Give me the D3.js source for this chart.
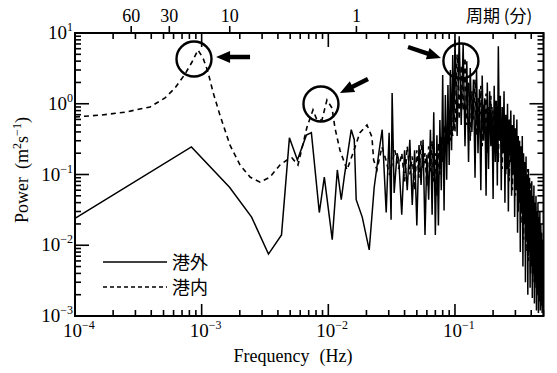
<!DOCTYPE html>
<html><head><meta charset="utf-8">
<script src="https://cdn.jsdelivr.net/npm/d3@7/dist/d3.min.js"></script>
<style>body{margin:0;background:#fff}svg{display:block}</style>
</head><body><svg id="c" width="557" height="373"></svg>
<script>
// ---------- data ----------
// 港外 (outside harbour), low-frequency part
const outerLowFreq = [1e-4, 8.3e-4, 1.66e-3, 2.48e-3, 3.37e-3, 4.27e-3, 4.93e-3, 5.7e-3, 6.71e-3, 7.35e-3, 8.49e-3, 9.3e-3, 0.01074, 0.01178, 0.01265, 0.01336, 0.01517, 0.01603, 0.0166, 0.01853, 0.02104, 0.02303, 0.02522, 0.02663, 0.02864, 0.0302, 0.0313, 0.0319, 0.0331, 0.0349];
const outerLowPower = [0.024, 0.245, 0.066, 0.025, 0.0075, 0.014, 0.33, 0.16, 0.36, 0.39, 0.029, 0.092, 0.012, 0.116, 0.044, 0.092, 0.43, 0.31, 0.044, 0.025, 0.0086, 0.066, 0.22, 0.43, 0.029, 0.39, 0.023, 1.42, 0.055, 0.2];
// 港内 (inside harbour), low-frequency part
const innerLowFreq = [1e-4, 1.575e-4, 2.48e-4, 3.91e-4, 5.14e-4, 6.16e-4, 7.39e-4, 8.39e-4, 9.35e-4, 1.025e-3, 1.122e-3, 1.228e-3, 1.395e-3, 1.674e-3, 2.01e-3, 2.41e-3, 2.89e-3, 3.46e-3, 4.15e-3, 4.72e-3, 5.17e-3, 5.76e-3, 6.79e-3, 7.57e-3, 8.13e-3, 8.91e-3, 9.75e-3, 0.0107, 0.0113, 0.01236, 0.01404, 0.01566, 0.01778, 0.0202, 0.0221, 0.0228, 0.0242, 0.0265, 0.0285, 0.0305, 0.0335];
const innerLowPower = [0.65, 0.69, 0.76, 0.9, 1.21, 1.67, 2.63, 3.89, 5.75, 4.43, 2.81, 1.47, 0.69, 0.26, 0.136, 0.092, 0.078, 0.092, 0.136, 0.16, 0.171, 0.136, 0.47, 0.82, 0.59, 0.59, 1.13, 0.87, 0.45, 0.22, 0.116, 0.2, 0.39, 0.5, 0.34, 0.16, 0.116, 0.245, 0.16, 0.098, 0.22];
// high-frequency part (shared frequencies)
const denseFreq = [0.036,0.038,0.040,0.042,0.044,0.046,0.048,0.050,0.052,0.054,0.056,0.058,0.060,0.062,0.064,0.066,0.068,0.070,0.072,0.074,0.076,0.078,0.080,0.082,0.084,0.086,0.088,0.090,0.092,0.094,0.096,0.098,0.100,
0.104,0.108,0.112,0.116,0.120,0.124,0.128,0.132,0.136,0.140,0.144,0.148,0.152,0.156,0.160,0.164,0.168,0.172,0.176,0.180,0.184,0.188,0.192,0.196,0.200,
0.204,0.208,0.212,0.216,0.220,0.224,0.228,0.232,0.236,0.240,0.244,0.248,0.252,0.256,0.260,0.264,0.268,0.272,0.276,0.280,0.284,0.288,0.292,0.296,0.300,
0.304,0.308,0.312,0.316,0.320,0.324,0.328,0.332,0.336,0.340,0.344,0.348,0.352,0.356,0.360,0.364,0.368,0.372,0.376,0.380,0.384,0.388,0.392,0.396,0.400,
0.404,0.408,0.412,0.416,0.420,0.424,0.428,0.432,0.436,0.440,0.444,0.448,0.452,0.456,0.460,0.464,0.468,0.472,0.476,0.480,0.484,0.488,0.492,0.496,0.500];
const outerDensePower = [0.16,0.027,0.22,0.06,0.31,0.037,0.22,0.019,0.26,0.071,0.31,0.014,0.19,0.044,0.43,0.027,0.76,0.014,0.36,0.019,0.59,0.06,2.55,0.031,1.33,0.084,1.84,0.136,3.0,0.22,4.9,0.43,8.0,
0.35,9.0,0.5,7.0,0.25,4.0,0.15,3.2,0.4,2.2,0.09,3.0,0.2,1.6,0.06,2.5,0.3,1.2,0.05,2.0,0.12,1.5,0.25,0.9,0.045,
1.8,0.15,1.1,0.07,6.5,0.3,1.3,0.06,0.9,0.2,1.5,0.04,0.7,0.12,1.0,0.03,0.6,0.2,0.8,0.05,0.5,0.1,0.7,0.025,0.45,
0.06,0.6,0.015,0.35,0.04,0.3,0.008,0.25,0.03,0.35,0.005,0.2,0.02,0.15,0.003,0.18,0.012,0.1,0.002,0.12,0.008,0.09,0.0025,0.06,0.005,
0.08,0.0018,0.05,0.004,0.07,0.0015,0.04,0.003,0.05,0.0012,0.03,0.002,0.04,0.0011,0.025,0.0016,0.03,0.0012,0.02,0.0014,0.015,0.0011,0.012,0.0013,0.01];
const innerDensePower = [0.12,0.2,0.08,0.25,0.1,0.18,0.06,0.22,0.09,0.3,0.12,0.2,0.07,0.25,0.11,0.3,0.08,0.2,0.05,0.28,0.1,0.35,0.15,0.5,0.2,0.4,0.25,0.7,0.3,0.45,0.35,1.5,0.4,
5.0,0.6,3.5,0.8,4.5,0.5,2.0,0.3,1.5,0.6,2.2,0.35,1.2,0.5,1.8,0.25,1.0,0.4,1.4,0.2,0.9,0.45,1.3,0.3,0.8,
0.2,1.1,0.35,0.7,0.15,0.9,0.3,0.6,0.12,0.8,0.25,0.5,0.1,0.6,0.2,0.45,0.08,0.5,0.15,0.4,0.06,0.35,0.12,0.3,0.05,
0.3,0.08,0.25,0.03,0.2,0.06,0.18,0.02,0.15,0.04,0.2,0.012,0.12,0.03,0.1,0.008,0.09,0.02,0.12,0.006,0.07,0.015,0.08,0.004,0.06,
0.01,0.05,0.003,0.045,0.008,0.04,0.0025,0.035,0.006,0.03,0.002,0.03,0.005,0.025,0.0018,0.02,0.004,0.02,0.0015,0.015,0.003,0.012,0.0013,0.01,0.002];
// top axis: period in minutes
const periodMinutes = [60, 30, 10, 1];
const seriesNames = ["港外", "港内"];
// annotation positions in data coordinates [freq, power]
const circles = [[8.7e-4, 4.29], [8.75e-3, 0.99], [0.1114, 4.02]];
const arrows = [ // [tail, tip]
  [[2.41e-3, 4.58], [1.30e-3, 4.58]],
  [[0.02056, 2.24], [0.01236, 1.42]],
  [[0.0426, 6.34], [0.0775, 4.43]]
];

// ---------- chart ----------
const L = 75, R = 543.5, T = 33, B = 316;
const x = d3.scaleLog().domain([1e-4, 0.5]).range([L, R]);
const y = d3.scaleLog().domain([1e-3, 10]).range([B, T]);
const svg = d3.select('#c');
const serif = '"Liberation Serif","DejaVu Serif",serif';
const cjk = '"Noto Sans CJK JP","Noto Sans CJK SC",sans-serif';

svg.append('defs').append('clipPath').attr('id', 'clip')
  .append('rect').attr('x', L).attr('y', T).attr('width', R - L).attr('height', B - T);

const line = d3.line().x(d => x(d[0])).y(d => y(d[1]));
const outer = outerLowFreq.map((f, i) => [f, outerLowPower[i]])
  .concat(denseFreq.map((f, i) => [f, outerDensePower[i]]));
const inner = innerLowFreq.map((f, i) => [f, innerLowPower[i]])
  .concat(denseFreq.map((f, i) => [f, innerDensePower[i]]));

const g = svg.append('g').attr('clip-path', 'url(#clip)');
g.append('path').attr('d', line(inner)).attr('fill', 'none').attr('stroke', '#000')
  .attr('stroke-width', 1.6).attr('stroke-dasharray', '5,4');
g.append('path').attr('d', line(outer)).attr('fill', 'none').attr('stroke', '#000')
  .attr('stroke-width', 1.5).attr('stroke-linejoin', 'miter');

// frame
svg.append('rect').attr('x', L).attr('y', T).attr('width', R - L).attr('height', B - T)
  .attr('fill', 'none').attr('stroke', '#000').attr('stroke-width', 2);

const isMajor = v => Math.abs(Math.log10(v) - Math.round(Math.log10(v))) < 1e-6;
const ticks = svg.append('g').attr('stroke', '#000').attr('stroke-width', 1.6);
x.ticks().forEach(v => {
  const px = x(v), len = isMajor(v) ? 12 : 6;
  ticks.append('line').attr('x1', px).attr('x2', px).attr('y1', B).attr('y2', B - len);
  ticks.append('line').attr('x1', px).attr('x2', px).attr('y1', T).attr('y2', T + (isMajor(v) ? 14 : 6));
});
y.ticks().forEach(v => {
  const py = y(v), len = isMajor(v) ? 14 : 6;
  ticks.append('line').attr('x1', L).attr('x2', L + len).attr('y1', py).attr('y2', py);
  ticks.append('line').attr('x1', R).attr('x2', R - len).attr('y1', py).attr('y2', py);
});
// period ticks above top axis
periodMinutes.forEach(m => {
  const px = x(1 / (60 * m));
  ticks.append('line').attr('x1', px).attr('x2', px).attr('y1', T).attr('y2', T - 7);
  svg.append('text').attr('x', px).attr('y', 22).attr('text-anchor', 'middle')
    .attr('font-family', serif).attr('font-size', 18).text(m);
});
svg.append('text').attr('x', 466).attr('y', 22).attr('font-family', cjk).attr('font-size', 17)
  .text('周期 (分)');

function powLabel(sel, exp) {
  sel.append('tspan').text('10');
  sel.append('tspan').attr('dy', -8).attr('font-size', 12).text(exp < 0 ? '\u2212' + (-exp) : exp);
}
// bottom labels
x.ticks().filter(isMajor).forEach(v => {
  const t = svg.append('text').attr('x', x(v) - 12).attr('y', 337)
    .attr('font-family', serif).attr('font-size', 19);
  powLabel(t, Math.round(Math.log10(v)));
});
// left labels
y.ticks().filter(isMajor).forEach(v => {
  const t = svg.append('text').attr('x', 73).attr('y', y(v) + 6).attr('text-anchor', 'end')
    .attr('font-family', serif).attr('font-size', 19);
  powLabel(t, Math.round(Math.log10(v)));
});

// axis titles
const xt = svg.append('text').attr('x', 293).attr('y', 362).attr('text-anchor', 'middle')
  .attr('font-family', serif).attr('font-size', 18);
xt.append('tspan').text('Frequency');
xt.append('tspan').attr('dx', 10).text('(Hz)');
const yt = svg.append('text').attr('transform', 'translate(28,170) rotate(-90)')
  .attr('text-anchor', 'middle').attr('font-family', serif).attr('font-size', 18);
yt.append('tspan').text('Power');
yt.append('tspan').attr('dx', 8).text('(m');
yt.append('tspan').attr('dy', -7).attr('font-size', 12).text('2');
yt.append('tspan').attr('dy', 7).text('s');
yt.append('tspan').attr('dy', -7).attr('font-size', 12).text('\u22121');
yt.append('tspan').attr('dy', 7).text(')');

// legend
const leg = svg.append('g');
[0, 1].forEach(i => {
  const ly = 262 + i * 25;
  leg.append('line').attr('x1', 103).attr('x2', 167).attr('y1', ly).attr('y2', ly)
    .attr('stroke', '#000').attr('stroke-width', 1.6)
    .attr('stroke-dasharray', i ? '4,3' : null);
  leg.append('text').attr('x', 172).attr('y', ly + 7).attr('font-family', cjk)
    .attr('font-size', 18).text(seriesNames[i]);
});

// annotations
circles.forEach(c => {
  svg.append('circle').attr('cx', x(c[0])).attr('cy', y(c[1])).attr('r', 17.5)
    .attr('fill', 'none').attr('stroke', '#000').attr('stroke-width', 2.4);
});
arrows.forEach(a => {
  const x0 = x(a[0][0]), y0 = y(a[0][1]), x1 = x(a[1][0]), y1 = y(a[1][1]);
  const dx = x1 - x0, dy = y1 - y0, len = Math.hypot(dx, dy), ux = dx / len, uy = dy / len;
  const hl = 14, hw = 6, sw = 2.2;
  const bx = x1 - ux * hl, by = y1 - uy * hl, nx = -uy, ny = ux;
  const pts = [
    [x0 + nx * sw, y0 + ny * sw], [bx + nx * sw, by + ny * sw], [bx + nx * hw, by + ny * hw],
    [x1, y1], [bx - nx * hw, by - ny * hw], [bx - nx * sw, by - ny * sw], [x0 - nx * sw, y0 - ny * sw]
  ];
  svg.append('path').attr('d', 'M' + pts.map(p => p.join(',')).join('L') + 'Z').attr('fill', '#000');
});
</script></body></html>
